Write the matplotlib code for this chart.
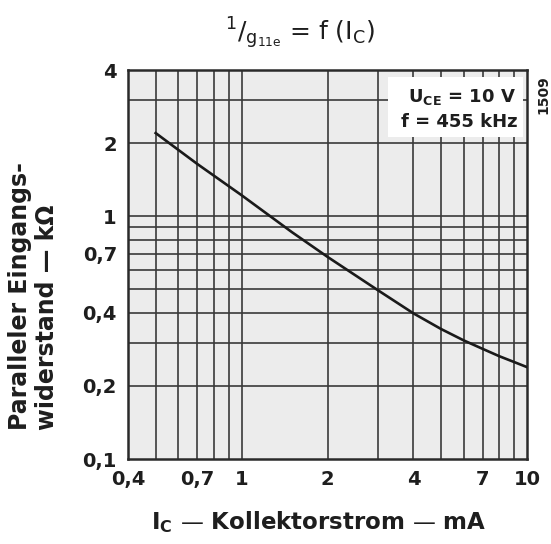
import matplotlib
matplotlib.use("Agg")
import matplotlib.pyplot as plt
from matplotlib.patches import Rectangle

# Daten: Kollektorstrom (mA) und paralleler Eingangswiderstand (kOhm)
ic_ma = [0.5, 0.7, 1, 1.5, 2, 3, 4, 5, 6, 7, 8, 9, 10]
r_kohm = [2.2, 1.64, 1.22, 0.86, 0.68, 0.496, 0.398, 0.343, 0.308, 0.284, 0.265, 0.251, 0.239]

# Gitterlinien und Beschriftungen
x_grid = [0.5, 0.6, 0.7, 0.8, 0.9, 1, 2, 3, 4, 5, 6, 7, 8, 9]
y_grid = [0.2, 0.3, 0.4, 0.5, 0.6, 0.7, 0.8, 0.9, 1, 2, 3]
x_ticks = [0.4, 0.7, 1, 2, 4, 7, 10]
x_labels = ["0,4", "0,7", "1", "2", "4", "7", "10"]
y_ticks = [0.1, 0.2, 0.4, 0.7, 1, 2, 4]
y_labels = ["0,1", "0,2", "0,4", "0,7", "1", "2", "4"]

plt.rcParams['font.family'] = ['DejaVu Sans']
plt.rcParams['mathtext.fontset'] = 'dejavusans'

tc = '#1e1e1e'
fig = plt.figure(figsize=(5.51, 5.44), dpi=100)
ax = fig.add_axes([128/551, 1 - 459/544, 399/551, 389/544])
ax.set_xscale('log')
ax.set_yscale('log')
ax.set_xlim(0.4, 10)
ax.set_ylim(0.1, 4)
ax.set_facecolor('#ececec')

gc = '#3a3a3a'
for x in x_grid:
    ax.axvline(x, color=gc, lw=1.2, zorder=1)
for y in y_grid:
    ax.axhline(y, color=gc, lw=1.2, zorder=1)

# weisses Feld fuer die Betriebsdaten
ax.add_patch(Rectangle((0.652, 0.828), 0.338, 0.154, transform=ax.transAxes,
                       facecolor='white', edgecolor='none', zorder=2))
ax.text(0.972, 0.930, r'$\mathbf{U_{CE}}$ = 10 V', transform=ax.transAxes,
        ha='right', va='center', fontsize=13, fontweight='bold', zorder=3, color=tc)
ax.text(0.977, 0.866, 'f = 455 kHz', transform=ax.transAxes,
        ha='right', va='center', fontsize=13, fontweight='bold', zorder=3, color=tc)

ax.plot(ic_ma, r_kohm, color='#1a1a1a', lw=1.9, zorder=4)

ax.set_xticks(x_ticks)
ax.set_xticklabels(x_labels, fontweight='bold')
ax.set_yticks(y_ticks)
ax.set_yticklabels(y_labels, fontweight='bold')
ax.minorticks_off()
ax.tick_params(length=0, labelsize=14, pad=8, colors=tc)
for s in ax.spines.values():
    s.set_linewidth(1.8)
    s.set_color('#2a2a2a')

fig.text(300/551, 1 - 33/544, r'$^{1}/_{\mathrm{g_{11e}}}$ = f (I$_\mathrm{C}$)',
         ha='center', va='center', fontsize=18, color=tc)
fig.text(319/551, 1 - 522/544, r'$\mathbf{I_C}$ — Kollektorstrom — mA',
         ha='center', va='center', fontsize=16.5, fontweight='bold', color=tc)
fig.text(8/551, 1 - 430/544, 'Paralleler Eingangs-\nwiderstand — kΩ',
         ha='left', va='bottom', rotation=90, multialignment='left',
         fontsize=17, fontweight='bold', color=tc, linespacing=1.15)
fig.text(543/551, 1 - 95/544, '1509', ha='center', va='center', rotation=90,
         fontsize=10, fontweight='bold', color=tc)

fig.savefig('out.png', dpi=100)
